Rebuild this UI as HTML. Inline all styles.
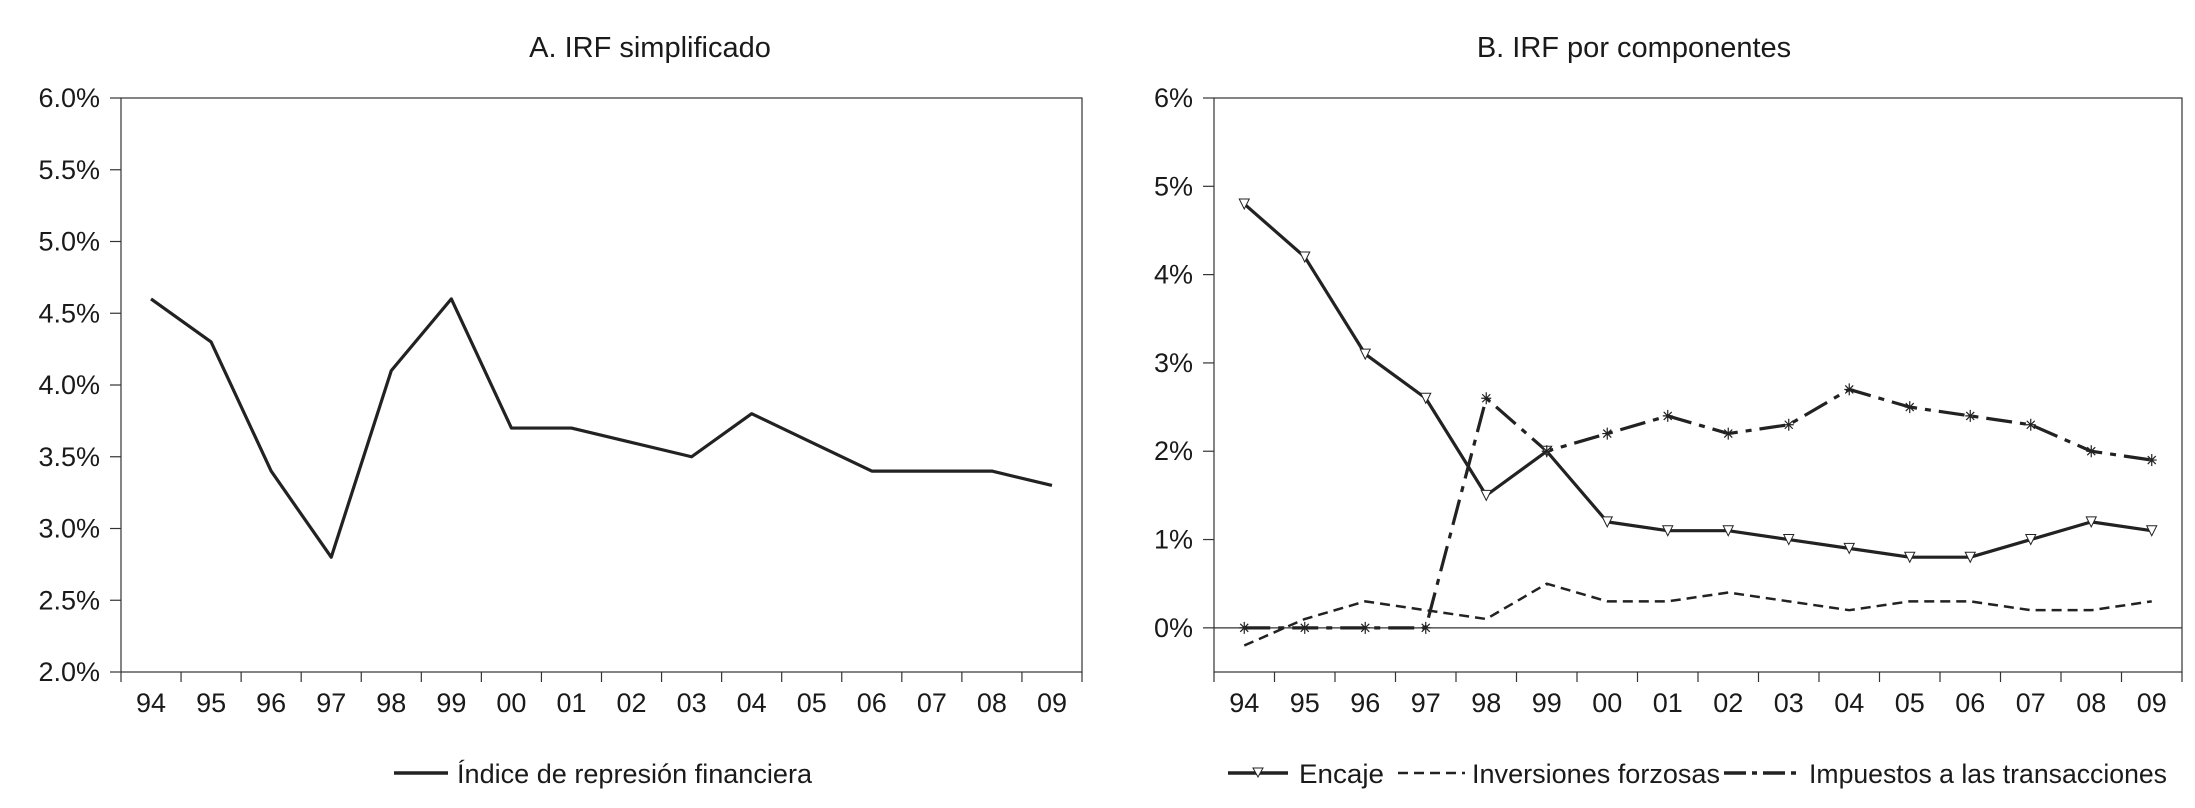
<!DOCTYPE html>
<html><head><meta charset="utf-8"><style>
html,body{margin:0;padding:0;background:#fff;}
svg{display:block;}
text{font-family:"Liberation Sans",Arial,sans-serif;fill:#1a1a1a;}
</style></head><body>
<svg id="c" width="2195" height="808" viewBox="0 0 2195 808" xmlns="http://www.w3.org/2000/svg">
<rect width="2195" height="808" fill="#fff"/>
<text x="650" y="57" font-size="29" text-anchor="middle">A. IRF simplificado</text>
<text x="1634" y="57" font-size="29" text-anchor="middle">B. IRF por componentes</text>
<g id="ga"></g>
<g id="gb"></g>
<g>
<line x1="394" y1="773" x2="448" y2="773" stroke="#222" stroke-width="3.5"/>
<text x="457" y="783" font-size="27" textLength="355" lengthAdjust="spacingAndGlyphs">Índice de represión financiera</text>
</g>
<g>
<g>
<line x1="1228" y1="773" x2="1288" y2="773" stroke="#222" stroke-width="3.5"/>
<path d="M1253,768 L1263,768 L1258,777 Z" fill="#fff" stroke="#222" stroke-width="1"/>
<text x="1299" y="783" font-size="27" textLength="85" lengthAdjust="spacingAndGlyphs">Encaje</text></g>
<g>
<line x1="1398" y1="773" x2="1465" y2="773" stroke="#222" stroke-width="2.5" stroke-dasharray="10,6"/>
<text x="1472" y="783" font-size="27" textLength="248" lengthAdjust="spacingAndGlyphs">Inversiones forzosas</text></g>
<g>
<line x1="1724" y1="773" x2="1799" y2="773" stroke="#222" stroke-width="3.5" stroke-dasharray="22,6,5,6"/>
<text x="1809" y="783" font-size="27" textLength="358" lengthAdjust="spacingAndGlyphs">Impuestos a las transacciones</text></g>
</g>
</svg>
<script>
const years=["94","95","96","97","98","99","00","01","02","03","04","05","06","07","08","09"];
const irf=[4.6,4.3,3.4,2.8,4.1,4.6,3.7,3.7,3.6,3.5,3.8,3.6,3.4,3.4,3.4,3.3];
const encaje=[4.8,4.2,3.1,2.6,1.5,2.0,1.2,1.1,1.1,1.0,0.9,0.8,0.8,1.0,1.2,1.1];
const inversiones=[-0.2,0.1,0.3,0.2,0.1,0.5,0.3,0.3,0.4,0.3,0.2,0.3,0.3,0.2,0.2,0.3];
const impuestos=[0,0,0,0,2.6,2.0,2.2,2.4,2.2,2.3,2.7,2.5,2.4,2.3,2.0,1.9];
const ticksA=[2.0,2.5,3.0,3.5,4.0,4.5,5.0,5.5,6.0];
const ticksB=[0,1,2,3,4,5,6];
const NS="http://www.w3.org/2000/svg";
function mk(p,tag,a){const e=document.createElementNS(NS,tag);for(const k in a)e.setAttribute(k,a[k]);p.appendChild(e);return e;}
function frame(g,L,R,T,B,ymin,ymax,ticks,fmt){
  const x=i=>L+(i+0.5)*(R-L)/years.length;
  const y=v=>B-(v-ymin)/(ymax-ymin)*(B-T);
  const r=mk(g,'rect',{x:L,y:T,width:R-L,height:B-T,fill:'none',stroke:'#333','stroke-width':1.2});
  
  
  ticks.forEach(v=>{
    mk(g,'line',{x1:L-11,x2:L,y1:y(v),y2:y(v),stroke:'#333','stroke-width':1.2});
    const t=mk(g,'text',{x:L-21,y:y(v)+9,'font-size':27,'text-anchor':'end'});
    t.textContent=fmt(v);
    
    
  });
  for(let i=0;i<=years.length;i++){const xx=L+i*(R-L)/years.length;mk(g,'line',{x1:xx,x2:xx,y1:B,y2:B+10,stroke:'#333','stroke-width':1.2});}
  years.forEach((yr,i)=>{
    const t=mk(g,'text',{x:x(i),y:712,'font-size':27,'text-anchor':'middle'});
    t.textContent=yr;
    
    
  });
  return {x,y};
}
function line(g,s,data,name,w,dash){
  const p=mk(g,'polyline',{points:data.map((v,i)=>s.x(i)+','+s.y(v)).join(' '),fill:'none',stroke:'#222','stroke-width':w,'stroke-linejoin':'round'});
  if(dash)p.setAttribute('stroke-dasharray',dash);
  
  
}
const ga=document.getElementById('ga');
const sa=frame(ga,121,1082,98,672,2.0,6.0,ticksA,v=>v.toFixed(1)+'%');
line(ga,sa,irf,'line-indice-represion',3.2);
const gb=document.getElementById('gb');
const sb=frame(gb,1214,2182,98,672,-0.5,6.0,ticksB,v=>v+'%');
mk(gb,'line',{x1:1214,x2:2182,y1:sb.y(0),y2:sb.y(0),stroke:'#333','stroke-width':1.2});
line(gb,sb,inversiones,'line-inversiones-forzosas',2.5,'10,6');
line(gb,sb,impuestos,'line-impuestos',3.2,'26,8,6,8');
line(gb,sb,encaje,'line-encaje',3.2);
encaje.forEach((v,i)=>{
  const cx=sb.x(i),cy=sb.y(v);
  const m=mk(gb,'path',{d:`M${cx-5},${cy-5} L${cx+5},${cy-5} L${cx},${cy+5} Z`,fill:'#fff',stroke:'#222','stroke-width':1});
  
  
});
impuestos.forEach((v,i)=>{
  const cx=sb.x(i),cy=sb.y(v);
  const m=mk(gb,'path',{d:`M${cx-5},${cy} L${cx+5},${cy} M${cx},${cy-6} L${cx},${cy+6} M${cx-4},${cy-4} L${cx+4},${cy+4} M${cx-4},${cy+4} L${cx+4},${cy-4}`,stroke:'#222','stroke-width':1.2});
  
  
});
</script>
</body></html>
